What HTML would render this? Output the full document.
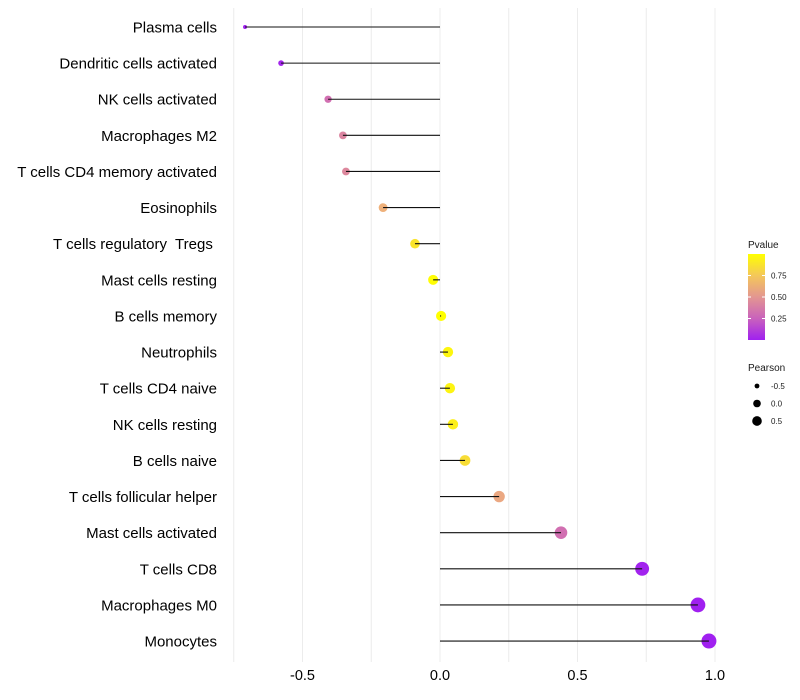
<!DOCTYPE html>
<html><head><meta charset="utf-8"><style>
html,body{margin:0;padding:0;background:#fff;}
svg{display:block;font-family:"Liberation Sans",sans-serif;}
text{white-space:pre;}
</style></head><body>
<svg id="chart" width="800" height="700" viewBox="0 0 800 700"></svg>
<script>
const categories=["Plasma cells","Dendritic cells activated","NK cells activated","Macrophages M2","T cells CD4 memory activated","Eosinophils","T cells regulatory  Tregs ","Mast cells resting","B cells memory","Neutrophils","T cells CD4 naive","NK cells resting","B cells naive","T cells follicular helper","Mast cells activated","T cells CD8","Macrophages M0","Monocytes"];
const pearson=[-0.709,-0.578,-0.407,-0.353,-0.342,-0.207,-0.091,-0.025,0.004,0.029,0.036,0.047,0.091,0.215,0.44,0.735,0.938,0.978];
const pvalues=[0.001,0.02,0.3,0.4,0.42,0.65,0.88,0.99,1.0,0.96,0.95,0.93,0.85,0.6,0.3,0.01,0.001,0.001];
const xTicks=[-0.5,0,0.5,1.0];
const xTickLabels=["-0.5","0.0","0.5","1.0"];
const gridVals=[-0.75,-0.5,-0.25,0,0.25,0.5,0.75,1.0];
const legendP=[0.75,0.5,0.25];
const legendSize=[-0.5,0,0.5];

const NS="http://www.w3.org/2000/svg";
const svg=document.getElementById('chart');
function mk(t,a,p){const e=document.createElementNS(NS,t);for(const k in a)e.setAttribute(k,a[k]);(p||svg).appendChild(e);return e;}
const x=v=>440+v*275;
const y=i=>27+i*36.12;
const r=v=>Math.sqrt(Math.max(1,25.8+30.8*v));
function lerp(a,b,t){return a.map((c,i)=>Math.round(c+(b[i]-c)*t));}
function col(p){const s=[[160,32,240],[214,120,170],[240,180,120],[255,255,0]];const t=Math.max(0,Math.min(1,p))*3;const i=Math.min(2,Math.floor(t));const c=lerp(s[i],s[i+1],t-i);return `rgb(${c[0]},${c[1]},${c[2]})`;}

gridVals.forEach(v=>{const g=mk('line',{x1:x(v),x2:x(v),y1:8,y2:662,stroke:'#ececec','stroke-width':1});
});
xTicks.forEach((v,i)=>{const t=mk('text',{x:x(v),y:680,'text-anchor':'middle','font-size':14.5,fill:'#000'});t.textContent=xTickLabels[i];
});
categories.forEach((c,i)=>{
 const t=mk('text',{x:217,y:y(i)+5.5,'text-anchor':'end','font-size':15,fill:'#000'});t.textContent=c;
 
 const d=mk('circle',{cx:x(pearson[i]),cy:y(i),r:r(pearson[i]),fill:col(pvalues[i])});
 
 const l=mk('line',{x1:x(0),x2:x(pearson[i]),y1:y(i),y2:y(i),stroke:'#111','stroke-width':1.1});
 
});
// legend
const lt=mk('text',{x:748,y:248,'font-size':10,fill:'#1a1a1a'});lt.textContent='Pvalue';

const defs=mk('defs',{});const gr=mk('linearGradient',{id:'pg',x1:0,y1:1,x2:0,y2:0},defs);
[0,0.25,0.5,0.75,1].forEach(o=>mk('stop',{offset:o,'stop-color':col(o)},gr));
const cb=mk('rect',{x:748,y:254,width:17,height:86,fill:'url(#pg)'});

const pY=p=>340-p*86;
legendP.forEach(p=>{mk('line',{x1:748,x2:751,y1:pY(p),y2:pY(p),stroke:'#fff'});mk('line',{x1:762,x2:765,y1:pY(p),y2:pY(p),stroke:'#fff'});
 const t=mk('text',{x:771,y:pY(p)+3,'font-size':8,fill:'#1a1a1a'});t.textContent=p.toFixed(2);
 });
const st=mk('text',{x:748,y:371,'font-size':10,fill:'#1a1a1a'});st.textContent='Pearson';

legendSize.forEach((v,i)=>{const cy=386+i*17.5;const c=mk('circle',{cx:757,cy:cy,r:r(v)*0.75,fill:'#000'});
 
 const t=mk('text',{x:771,y:cy+3,'font-size':8,fill:'#1a1a1a'});t.textContent=v.toFixed(1);
 });
</script>
</body></html>
